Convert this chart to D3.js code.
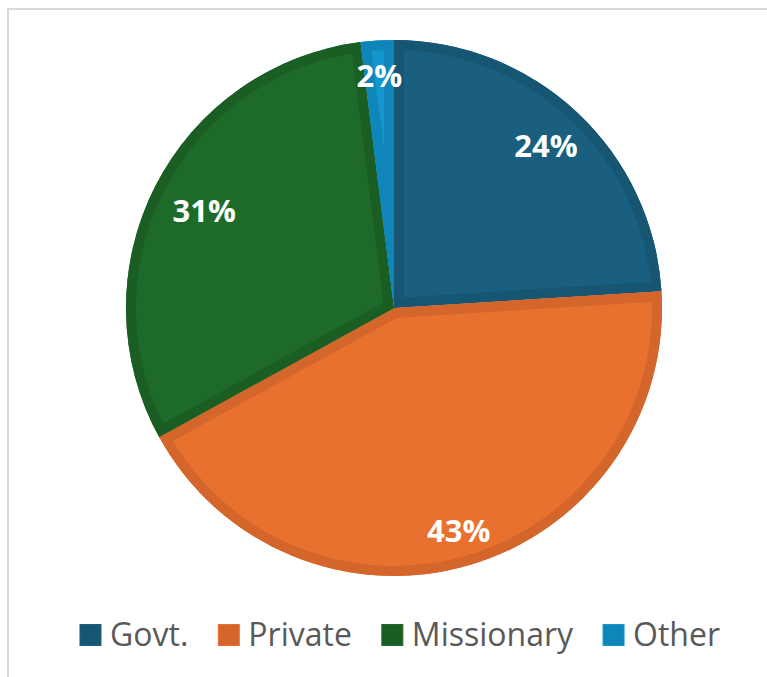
<!DOCTYPE html>
<html>
<head>
<meta charset="utf-8">
<script src="https://cdn.jsdelivr.net/npm/d3@7"></script>
<style>
  html, body { margin: 0; padding: 0; background: #fff; }
  svg { display: block; }
</style>
</head>
<body>
<svg id="chart" width="767" height="677"></svg>
<script>
// School ownership shares
const categories = ["Govt.", "Private", "Missionary", "Other"];
const values = [24, 43, 31, 2];
const labels = ["24%", "43%", "31%", "2%"];

const fillColors = ["#1a5f80", "#e9712f", "#1e6b29", "#1496cf"];
const edgeColors = ["#165673", "#d5662b", "#1a5e23", "#0f86b9"];

// distance of each value label from the pie centre
const labelRadius = [222, 232, 213, 232];

const W = 767, H = 677;
const cx = 394, cy = 308, R = 268;
const font = "'Open Sans', 'Segoe UI', sans-serif";

const svg = d3.select("#chart");

// chart frame
svg.append("rect")
  .attr("x", 8).attr("y", 9)
  .attr("width", W + 20).attr("height", H + 20)
  .attr("fill", "none")
  .attr("stroke", "#d9d9d9")
  .attr("stroke-width", 2);

const pie = d3.pie().sort(null).value(d => d)(values);
const arc = d3.arc().innerRadius(0).outerRadius(R);

const g = svg.append("g").attr("transform", `translate(${cx},${cy})`);
const defs = svg.append("defs");

pie.forEach((d, i) => {
  defs.append("clipPath").attr("id", "clip" + i)
    .append("path").attr("d", arc(d));
});

const slices = g.selectAll("g.slice").data(pie).join("g").attr("class", "slice");

slices.append("path")
  .attr("d", arc)
  .attr("fill", (d, i) => fillColors[i]);

// darker inner border band on each slice
slices.append("path")
  .attr("d", arc)
  .attr("fill", "none")
  .attr("stroke", (d, i) => edgeColors[i])
  .attr("stroke-width", 20)
  .attr("stroke-linejoin", "round")
  .attr("clip-path", (d, i) => `url(#clip${i})`);

// value labels
slices.append("text")
  .attr("transform", (d, i) => {
    const a = d3.arc().innerRadius(labelRadius[i]).outerRadius(labelRadius[i]);
    return `translate(${a.centroid(d)})`;
  })
  .attr("text-anchor", "middle")
  .attr("dy", "0.35em")
  .attr("fill", "#ffffff")
  .attr("font-family", font)
  .attr("font-weight", "bold")
  .attr("font-size", 31)
  .text((d, i) => labels[i]);

// legend
const legend = svg.append("g");
const legendY = 635;
const sq = 21, gapText = 9, gapItem = 30;
const items = legend.selectAll("g").data(categories).join("g");
items.append("rect")
  .attr("width", sq).attr("height", sq)
  .attr("y", legendY - sq / 2)
  .attr("fill", (d, i) => edgeColors[i])
  .attr("stroke", (d, i) => fillColors[i])
  .attr("stroke-width", 1);
items.append("text")
  .attr("x", sq + gapText)
  .attr("y", legendY)
  .attr("dy", "0.35em")
  .attr("fill", "#595959")
  .attr("font-family", font)
  .attr("font-size", 32)
  .text(d => d);

const widths = [];
items.each(function () {
  const t = d3.select(this).select("text").node().getComputedTextLength();
  widths.push(sq + gapText + t);
});
const total = d3.sum(widths) + gapItem * (widths.length - 1);
let x = 400 - total / 2;
items.each(function (d, i) {
  d3.select(this).attr("transform", `translate(${x},0)`);
  x += widths[i] + gapItem;
});
</script>
</body>
</html>
